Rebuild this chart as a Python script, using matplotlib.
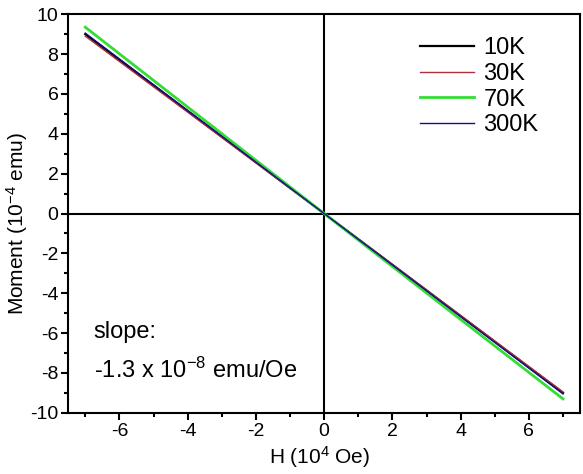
import matplotlib
matplotlib.use("Agg")
import matplotlib.pyplot as plt
from matplotlib.ticker import MultipleLocator

plt.rcParams["font.family"] = ["Liberation Sans", "DejaVu Sans"]
plt.rcParams["mathtext.fontset"] = "custom"
plt.rcParams["mathtext.rm"] = "Liberation Sans"
plt.rcParams["mathtext.it"] = "Liberation Sans:italic"
plt.rcParams["axes.unicode_minus"] = False

# field (10^4 Oe) and moment (10^-4 emu)
field = [-7, 0, 7]
moment_10k = [9.00, 0.0, -9.00]
moment_30k = [8.90, 0.0, -8.95]
moment_70k = [9.35, 0.0, -9.30]
moment_300k = [9.05, 0.0, -9.05]

labels = ["10K", "30K", "70K", "300K"]
colors = ["#000000", "#b0303a", "#33dd33", "#10108a"]
widths = [1.6, 1.0, 2.0, 1.0]

fig = plt.figure(figsize=(5.83, 4.74), dpi=100)
ax = fig.add_axes([0.117, 0.129, 0.878, 0.841])

ax.axhline(0, color="black", lw=1.5, zorder=1)
ax.axvline(0, color="black", lw=1.5, zorder=1)

series = [moment_10k, moment_30k, moment_70k, moment_300k]
for m, lab, c, w in zip(series, labels, colors, widths):
    ax.plot(field, m, color=c, lw=w, label=lab, zorder=2)

ax.set_xlim(-7.5, 7.5)
ax.set_ylim(-10, 10)
ax.xaxis.set_major_locator(MultipleLocator(2))
ax.xaxis.set_minor_locator(MultipleLocator(1))
ax.yaxis.set_major_locator(MultipleLocator(2))
ax.yaxis.set_minor_locator(MultipleLocator(1))
ax.tick_params(which="both", direction="out", width=1.5, labelsize=14, pad=2)
ax.tick_params(which="major", length=5)
ax.tick_params(which="minor", length=3)
for s in ax.spines.values():
    s.set_linewidth(1.5)

ax.set_xlabel("H (10$^{4}$ Oe)", fontsize=15)
ax.set_ylabel("Moment (10$^{-4}$ emu)", fontsize=15)
ax.xaxis.set_label_coords(0.492, -0.078)
ax.yaxis.set_label_coords(-0.074, 0.476)

ax.legend(loc="upper right", frameon=False, fontsize=17, handlelength=2.3,
          handletextpad=0.4, labelspacing=0.15, bbox_to_anchor=(0.96, 0.995))

ax.text(-6.75, -5.95, "slope:", fontsize=17, va="center")
ax.text(-6.75, -7.85, "-1.3 x 10$^{-8}$ emu/Oe", fontsize=17, va="center")

fig.savefig("out.png", dpi=100)
